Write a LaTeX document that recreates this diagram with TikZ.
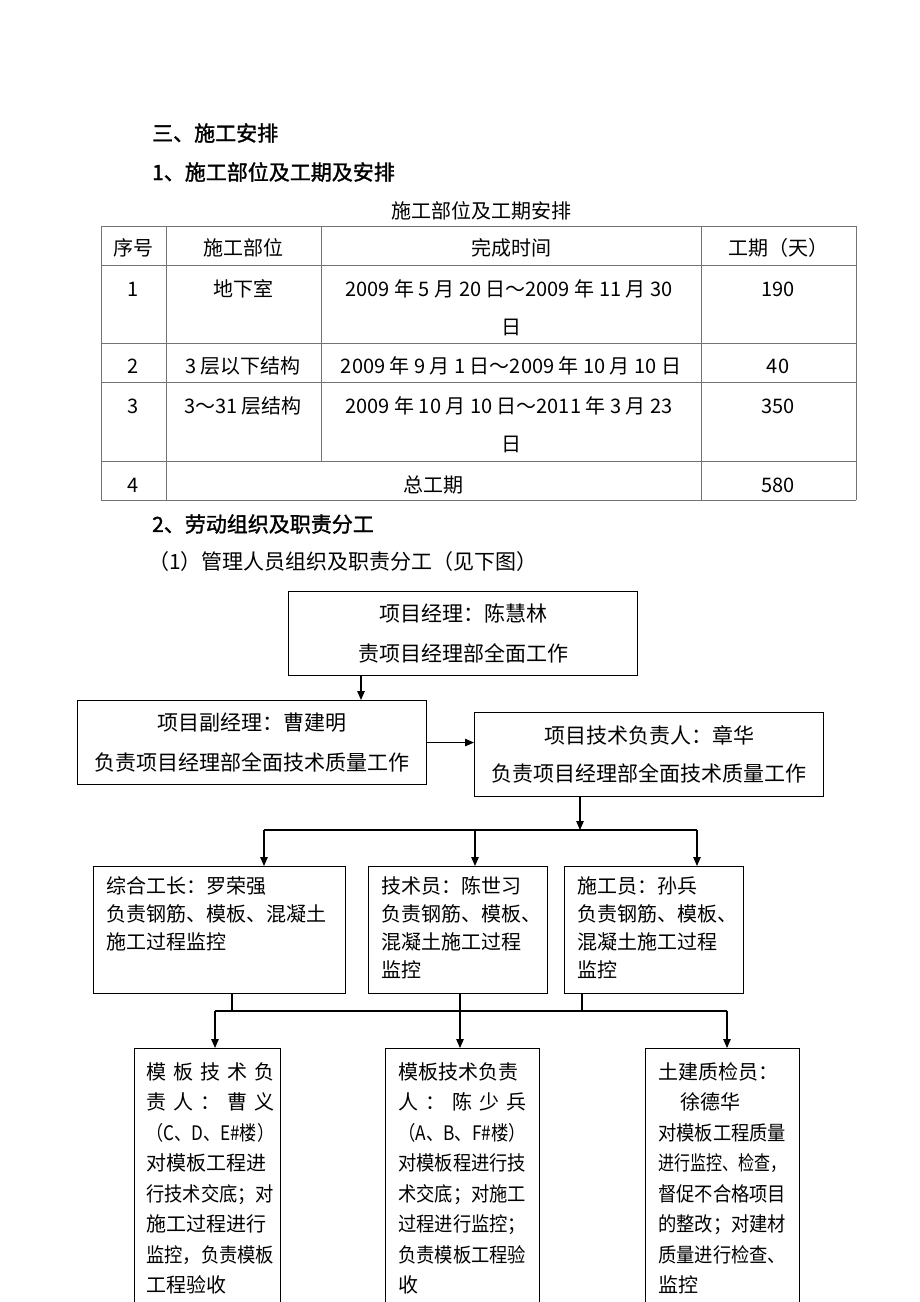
\documentclass[tikz,border=0pt]{standalone}
\usepackage{fontspec}
\usepackage{graphicx}
\setmainfont{Noto Sans CJK SC}
\newfontfamily\boldcjk[FakeBold=1.5]{Noto Sans CJK SC}
\usetikzlibrary{arrows.meta}
\newcommand{\spr}[1]{\makebox[128pt][s]{#1}}
\newcommand{\sq}[1]{\resizebox{128pt}{\height}{#1}}
\tikzset{
    boxframe/.style={draw, line width=1.1pt, anchor=north west, inner sep=0pt},
    txt/.style={inner sep=0pt, anchor=north west, align=left},
    arr/.style={line width=1.1pt, -{Triangle[length=9pt,width=7.5pt]}},
    conn/.style={line width=1.1pt},
    tabline/.style={draw=black!55, line width=1pt},
    tabtext/.style={inner sep=0pt, font=\fontsize{20}{20}\selectfont},
    head/.style={inner sep=0pt, anchor=west, font=\boldcjk\fontsize{21}{21}\selectfont}
}
\begin{document}
\begin{tikzpicture}[x=1pt, y=-1pt]
            \useasboundingbox (0,0) rectangle (920,1302);
            \clip (0,0) rectangle (920,1302);
            \node[head] (h1) at (152,133) {三、施工安排};
            \node[head] (h2) at (152,172) {1、施工部位及工期及安排};
            \node[tabtext] (cap) at (481,211) {施工部位及工期安排};
            \foreach \y in {226,265,343,382,461,500}
            {
                    \draw[tabline] (101,\y) -- (856,\y);
            }
            \foreach \x in {101,166,701,856}
            {
                    \draw[tabline] (\x,226) -- (\x,500);
            }
            \draw[tabline] (321,226) -- (321,461);
            \node[tabtext] (t01) at (133,248) {序号};
            \node[tabtext] (t02) at (243,248) {施工部位};
            \node[tabtext] (t03) at (511,248) {完成时间};
            \node[tabtext] (t04) at (778,248) {工期（天）};
            \node[tabtext] (t11) at (133,289) {1};
            \node[tabtext] (t12) at (243,289) {地下室};
            \node[tabtext] (t13) at (509,289) {2009 年 5 月 20 日～2009 年 11 月 30};
            \node[tabtext] (t13b) at (511,327) {日};
            \node[tabtext] (t14) at (778,289) {190};
            \node[tabtext] (t21) at (133,366) {2};
            \node[tabtext] (t22) at (243,366) {3 层以下结构};
            \node[tabtext] (t23) at (511,366) {2009 年 9 月 1 日～2009 年 10 月 10 日};
            \node[tabtext] (t24) at (778,366) {40};
            \node[tabtext] (t31) at (133,406) {3};
            \node[tabtext] (t32) at (243,406) {3～31 层结构};
            \node[tabtext] (t33) at (509,406) {2009 年 10 月 10 日～2011 年 3 月 23};
            \node[tabtext] (t33b) at (511,444) {日};
            \node[tabtext] (t34) at (778,406) {350};
            \node[tabtext] (t41) at (133,485) {4};
            \node[tabtext] (t42) at (433,485) {总工期};
            \node[tabtext] (t44) at (778,485) {580};
            \node[head] (h3) at (152,524) {2、劳动组织及职责分工};
            \node[tabtext, anchor=west, font=\fontsize{21}{21}\selectfont] (h4) at (148,562) {（1）管理人员组织及职责分工（见下图）};
            \node[boxframe, minimum width=349, minimum height=84, align=center, font=\fontsize{21}{40}\selectfont] (pm) at (288,591) {项目经理：陈慧林\\责项目经理部全面工作};
            \node[boxframe, minimum width=349, minimum height=84, align=center, font=\fontsize{21}{40}\selectfont] (vpm) at (77,700) {项目副经理：曹建明\\负责项目经理部全面技术质量工作};
            \node[boxframe, minimum width=349, minimum height=84, align=center, font=\fontsize{21}{38}\selectfont] (tech) at (474,712) {项目技术负责人：章华\\负责项目经理部全面技术质量工作};
            \node[boxframe, minimum width=252, minimum height=127] (gz) at (93,866) {};
            \node[boxframe, minimum width=179, minimum height=127] (jsy) at (368,866) {};
            \node[boxframe, minimum width=179, minimum height=127] (sgy) at (564,866) {};
            \node[txt, font=\fontsize{20}{28}\selectfont] (gzt) at ([shift={(13,10)}]gz.north west) {综合工长：罗荣强\\负责钢筋、模板、混凝土\\施工过程监控};
            \node[txt, font=\fontsize{20}{28}\selectfont] (jsyt) at ([shift={(13,10)}]jsy.north west) {技术员：陈世习\\负责钢筋、模板、\\混凝土施工过程\\监控};
            \node[txt, font=\fontsize{20}{28}\selectfont] (sgyt) at ([shift={(13,10)}]sgy.north west) {施工员：孙兵\\负责钢筋、模板、\\混凝土施工过程\\监控};
            \node[boxframe, minimum width=146, minimum height=300] (mb1) at (134,1048) {};
            \node[boxframe, minimum width=154, minimum height=300] (mb2) at (385,1048) {};
            \node[boxframe, minimum width=154, minimum height=300] (zj) at (645,1048) {};
            \node[txt, font=\fontsize{20}{30.5}\selectfont] (mb1t) at ([shift={(12,14)}]mb1.north west) {\spr{模 板 技 术 负}\\\spr{责 人 ： 曹 义}\\\sq{（C、D、E\#楼）}\\对模板工程进\\\sq{行技术交底；对}\\施工过程进行\\\sq{监控，负责模板}\\工程验收};
            \node[txt, font=\fontsize{20}{30.5}\selectfont] (mb2t) at ([shift={(13,14)}]mb2.north west) {模板技术负责\\\spr{人 ： 陈 少 兵}\\\sq{（A、B、F\#楼）}\\\sq{对模板程进行技}\\\sq{术交底；对施工}\\\sq{过程进行监控；}\\\sq{负责模板工程验}\\收};
            \node[txt, font=\fontsize{20}{30.5}\selectfont] (zjt) at ([shift={(13,14)}]zj.north west) {土建质检员：\\\hspace*{22pt}徐德华\\\sq{对模板工程质量}\\\sq{进行监控、检查，}\\\sq{督促不合格项目}\\\sq{的整改；对建材}\\\sq{质量进行检查、}\\监控};
            \coordinate (a1) at (361,0);
            \draw[arr] (pm.south -| a1) -- (vpm.north -| a1);
            \draw[arr] (vpm.east) -- (vpm.east -| tech.west);
            \coordinate (b0) at (580,830);
            \coordinate (b1) at (264,830);
            \coordinate (b2) at (475,830);
            \coordinate (b3) at (697,830);
            \draw[arr] (tech.south -| b0) -- (b0);
            \draw[conn] (b1) -- (b3);
            \draw[arr] (b1) -- (b1 |- gz.north);
            \draw[arr] (b2) -- (b2 |- jsy.north);
            \draw[arr] (b3) -- (b3 |- sgy.north);
            \coordinate (d1) at (232,1011);
            \coordinate (d2) at (460,1011);
            \coordinate (d3) at (582,1011);
            \coordinate (e1) at (215,1011);
            \coordinate (e3) at (727,1011);
            \draw[conn] (gz.south -| d1) -- (d1);
            \draw[conn] (jsy.south -| d2) -- (d2);
            \draw[conn] (sgy.south -| d3) -- (d3);
            \draw[conn] (e1) -- (e3);
            \draw[arr] (e1) -- (e1 |- mb1.north);
            \draw[arr] (d2) -- (d2 |- mb2.north);
            \draw[arr] (e3) -- (e3 |- zj.north);
\end{tikzpicture}
\end{document}
